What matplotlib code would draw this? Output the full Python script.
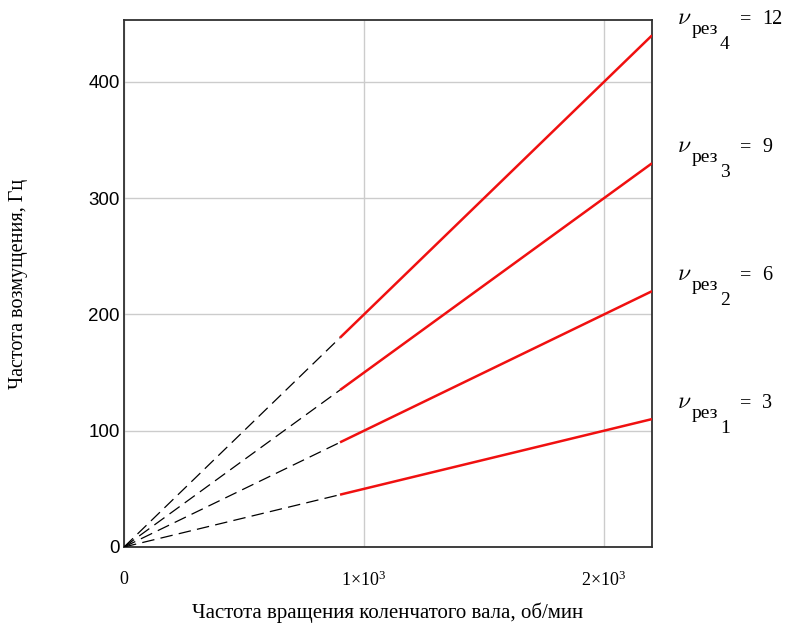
import numpy as np
import matplotlib
matplotlib.use("Agg")
import matplotlib.pyplot as plt
from matplotlib.transforms import offset_copy

# Crankshaft speed range, rpm
n_idle = 900
n_max = 2200
# Resonance harmonic orders
orders = [3, 6, 9, 12]
order_idx = [1, 2, 3, 4]
x_ticks = [0, 1000, 2000]
x_tick_labels = ["0", "1×10$^{3}$", "2×10$^{3}$"]
y_ticks = [0, 100, 200, 300, 400]
y_max = 453

plt.rcParams["mathtext.fontset"] = "custom"
plt.rcParams["mathtext.rm"] = "Liberation Serif"
plt.rcParams["mathtext.it"] = "Liberation Serif:italic"

fig = plt.figure(figsize=(7.87, 6.32), dpi=100)
ax = fig.add_axes([0.1576, 0.1345, 0.8285 - 0.1576, 0.968 - 0.1345])

n_low = np.array([0, n_idle])
n_high = np.array([n_idle, n_max])
for nu in orders:
    ax.plot(n_low, nu * n_low / 60, color="black", lw=0.9,
            dashes=(10, 5), zorder=3)
    ax.plot(n_high, nu * n_high / 60, color="#f01010", lw=1.8,
            solid_capstyle="butt", zorder=4)

ax.set_xlim(0, n_max)
ax.set_ylim(0, y_max)

# Labels of the form  ν_{рез_k} = order, set next to the line ends
serif = "Liberation Serif"
for k, nu in zip(order_idx, orders):
    x0, y0 = n_max, nu * n_max / 60
    parts = [
        (r"$\nu$", 25, 11, 17, "cm"),
        ("рез", 40, 1, 14, None),
        (str(k), 68, -14, 14, None),
        ("=", 88, 11, 14.5, None),
        (str(nu), 110, 11, 14.5, None),
    ]
    for s, dx, dy, size, mfam in parts:
        tr = offset_copy(ax.transData, fig=fig, x=dx, y=dy, units="dots")
        t = ax.text(x0, y0, s, transform=tr, ha="left", va="baseline",
                    fontsize=size, family=serif, clip_on=False)
        if mfam:
            t.set_math_fontfamily(mfam)

ax.set_xticks(x_ticks)
ax.set_xticklabels(x_tick_labels, family=serif, fontsize=13)
ax.set_yticks(y_ticks)
ax.set_yticklabels([str(v) for v in y_ticks], family="Liberation Sans",
                   fontsize=13.5)
ax.tick_params(axis="x", length=0, pad=17)
ax.tick_params(axis="y", length=0, pad=3)
ax.grid(True, color="#cccccc", lw=1.0)
ax.set_axisbelow(True)
for s in ax.spines.values():
    s.set_color("#303030")
    s.set_linewidth(1.3)

ax.set_xlabel("Частота вращения коленчатого вала, об/мин",
              family=serif, fontsize=15)
ax.xaxis.set_label_coords(0.5, -0.105)
ax.set_ylabel("Частота возмущения, Гц", family=serif, fontsize=14.5)
ax.yaxis.set_label_coords(-0.182, 0.5)

fig.savefig("out.png", dpi=100)
